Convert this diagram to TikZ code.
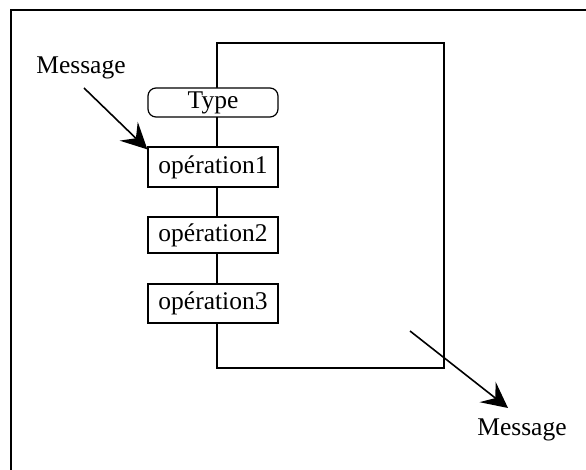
\documentclass[tikz,border=0pt]{standalone}
\usepackage{fontspec}
\setmainfont{Liberation Serif}
\usetikzlibrary{arrows.meta}
\begin{document}
\begin{tikzpicture}[x=1pt,y=-1pt,
  lbl/.style={font=\fontsize{25.5}{28}\selectfont, inner sep=0pt},
  opbox/.style={draw, line width=1.2pt, fill=white, minimum width=130pt, inner sep=0pt, font=\fontsize{25.5}{28}\selectfont},
  typebox/.style={opbox, rounded corners=8pt},
  line/.style={line width=1.4pt},
  bigarrow/.style={line width=1.6pt, -{Stealth[length=26pt, width=26pt, inset=10pt]}}]
\useasboundingbox (0,0) rectangle (586,470);
% frame (only top and left edges are visible)
\draw[line width=2.2pt] (11,470) -- (11,10) -- (586,10);
% big rectangle
\draw[line] (217,43) rectangle (444,368);
% nodes
\node[typebox, minimum height=29pt] (type) at (213,102.5) {Type};
\node[opbox, minimum height=40pt] (op1) at (213,167) {opération1};
\node[opbox, minimum height=36pt] (op2) at (213,235) {opération2};
\node[opbox, minimum height=39pt] (op3) at (213,303.5) {opération3};
% labels
\node[lbl] (msgin) at (81,68) {Message};
\node[lbl] (msgout) at (522,430) {Message};
% arrows
\coordinate (ainS) at (84,88);
\coordinate (aoutS) at (410,331);
\coordinate (aoutE) at (508,408);
\draw[bigarrow] (ainS) -- ([yshift=-3pt]op1.north west);
\draw[bigarrow] (aoutS) -- (aoutE);
\end{tikzpicture}
\end{document}
